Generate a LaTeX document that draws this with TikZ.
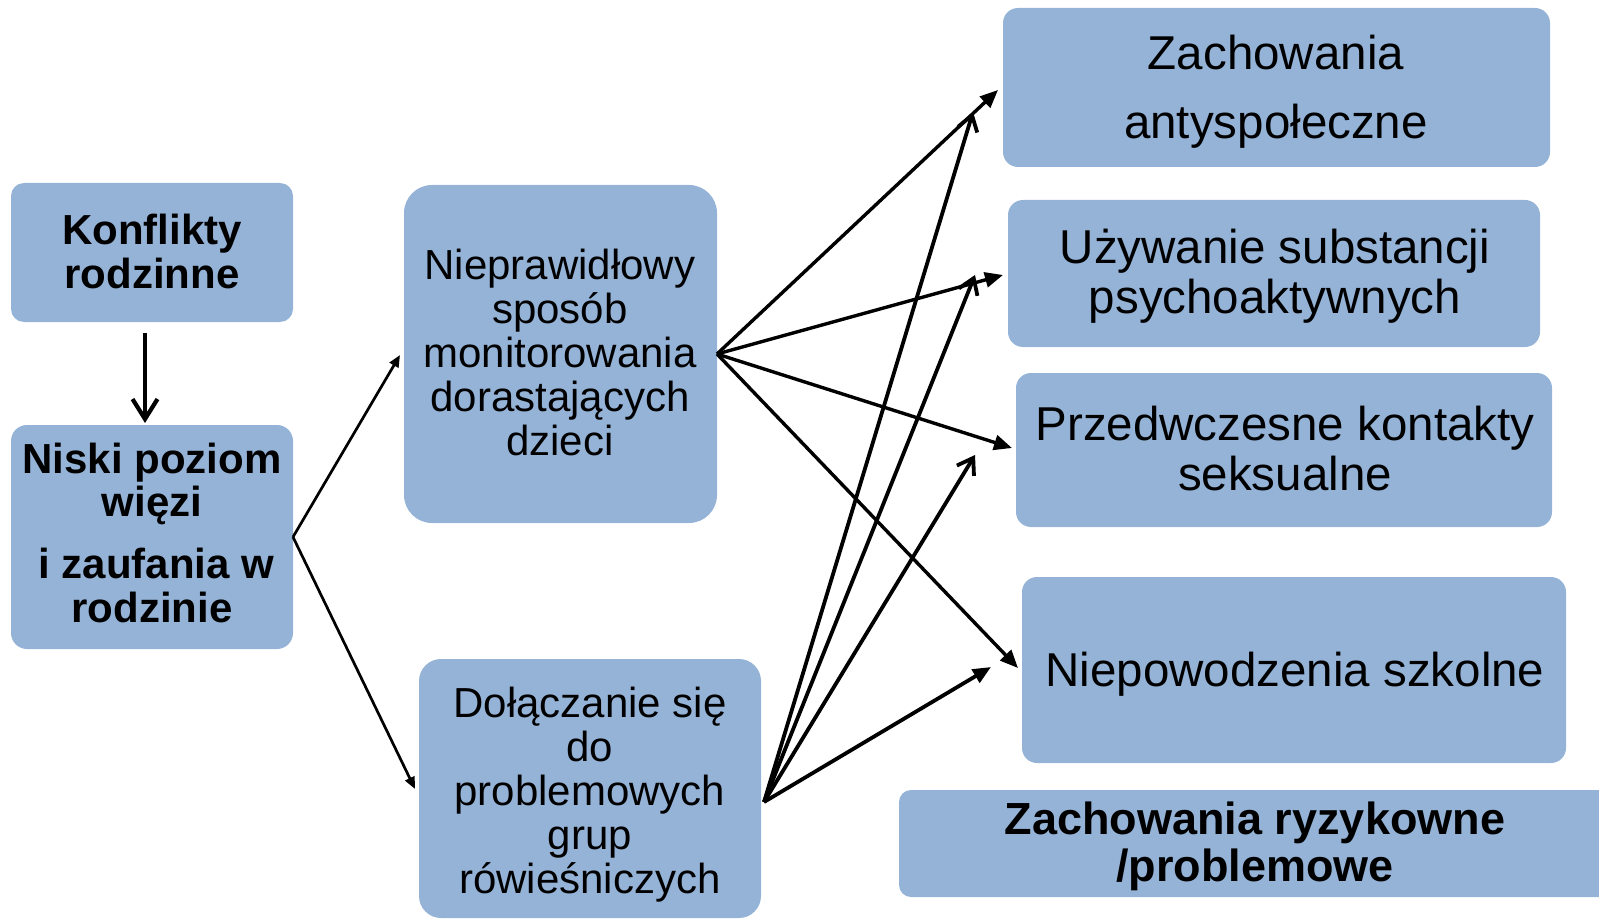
\documentclass[tikz,border=0pt]{standalone}
\usepackage{fontspec}
\setmainfont{Liberation Sans}
\usetikzlibrary{arrows.meta}
\definecolor{boxblue}{RGB}{149,179,215}
\begin{document}
\begin{tikzpicture}[x=1pt,y=-1pt,
  box/.style={fill=boxblue, draw=none, anchor=north west, inner sep=0pt, outer sep=0pt},
  txt/.style={anchor=base, align=center, inner sep=0pt},
  bigtxt/.style={txt, font=\fontsize{47.5}{50}\selectfont},
  midtxt/.style={txt, font=\fontsize{42}{44}\selectfont},
  boldtxt/.style={txt, font=\fontsize{42}{43.5}\selectfont\bfseries},
  filledarrow/.style={line width=3.4pt, -{Triangle[length=18pt,width=15pt]}},
  openarrow/.style={line width=3.8pt, -{Straight Barb[length=15pt,width=20pt]}},
  thinarrow/.style={line width=2.7pt, -{Triangle[length=12pt,width=10pt]}},
  downarrow/.style={line width=4.2pt, -{Straight Barb[length=20pt,width=25pt]}}]
\useasboundingbox (0,0) rectangle (1599,920);

% boxes
\node[box, rounded corners=13pt, minimum width=282pt, minimum height=139pt] (konf) at (11,183) {};
\node[box, rounded corners=16pt, minimum width=282pt, minimum height=224pt] (niski) at (11,425) {};
\node[box, rounded corners=28pt, minimum width=313pt, minimum height=338pt] (niepr) at (404,185) {};
\node[box, rounded corners=22pt, minimum width=342pt, minimum height=259pt] (dolacz) at (419,659) {};
\node[box, rounded corners=15pt, minimum width=547pt, minimum height=159pt] (anty) at (1003,8) {};
\node[box, rounded corners=15pt, minimum width=532pt, minimum height=147pt] (uzyw) at (1008,200) {};
\node[box, rounded corners=15pt, minimum width=536pt, minimum height=154pt] (przed) at (1016,373) {};
\node[box, rounded corners=15pt, minimum width=544pt, minimum height=186pt] (niepow) at (1022,577) {};
\node[box, rounded corners=12pt, minimum width=721pt, minimum height=107pt] (ryzyk) at (899,790) {};

% texts (anchored at the baseline of the last line)
\node[boldtxt] (tkonf) at (152,288) {Konflikty\\rodzinne};
\node[boldtxt] (tniski) at (152,622) {Niski poziom\\więzi\\[18.5pt]\hspace*{9pt}i zaufania w\\rodzinie};
\node[midtxt] (tniepr) at (560,455) {Nieprawidłowy\\sposób\\monitorowania\\dorastających\\dzieci};
\node[midtxt] (tdolacz) at (590,893) {Dołączanie się\\do\\problemowych\\grup\\rówieśniczych};
\node[bigtxt, font=\fontsize{47.5}{69}\selectfont] (tanty) at (1276,139) {Zachowania\\antyspołeczne};
\node[bigtxt] (tuzyw) at (1275,313) {Używanie substancji\\psychoaktywnych};
\node[bigtxt] (tprzed) at (1285,490) {Przedwczesne kontakty\\seksualne};
\node[bigtxt] (tniepow) at (1295,686) {Niepowodzenia szkolne};
\node[txt, font=\fontsize{45}{47}\selectfont\bfseries] (tryzyk) at (1255,881) {Zachowania ryzykowne\\/problemowe};

% arrow end points
\coordinate (dsrc) at (764,802);
\coordinate (a1) at (998,90);
\coordinate (a2) at (1003,275);
\coordinate (a3) at (1012,448);
\coordinate (a4) at (1018,668);
\coordinate (d1) at (973,112);
\coordinate (d2) at (975,275);
\coordinate (d3) at (975,455);
\coordinate (d4) at (991,667);
\coordinate (n1) at (400,355);
\coordinate (n2) at (415,789);

% connectors
\draw[downarrow, shorten <=11pt, shorten >=2pt] (konf.south -| 145,0) -- (niski.north -| 145,0);
\draw[thinarrow] (niski.east) -- (n1);
\draw[thinarrow] (niski.east) -- (n2);
\draw[filledarrow] (niepr.east) -- (a1);
\draw[filledarrow] (niepr.east) -- (a2);
\draw[filledarrow] (niepr.east) -- (a3);
\draw[filledarrow] (niepr.east) -- (a4);
\draw[openarrow] (dsrc) -- (d1);
\draw[openarrow] (dsrc) -- (d2);
\draw[openarrow] (dsrc) -- (d3);
\draw[filledarrow, line width=3.8pt] (dsrc) -- (d4);
\end{tikzpicture}
\end{document}
